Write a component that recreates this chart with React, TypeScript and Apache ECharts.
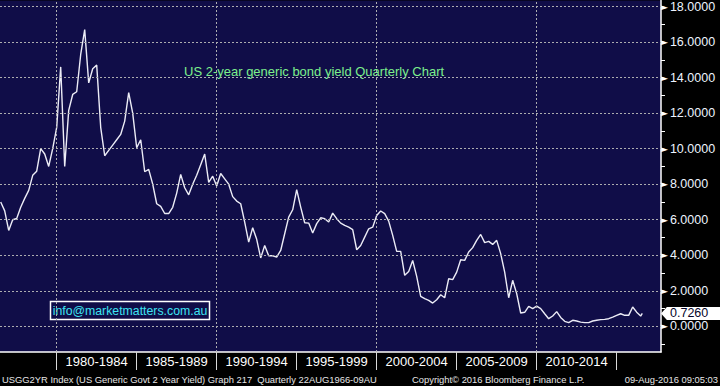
import React, { useEffect, useRef } from "react";
import * as echarts from "echarts";

// ---- data ----
const firstQuarterEnd = 1976.5; // first plotted quarter (Q2 1976)
const lastObservation = 2016.6; // partial quarter, 09-Aug-2016
const yieldValues = [
  7.0, 6.5, 5.4, 6.0, 6.07, 6.7, 7.2, 7.65, 8.5, 8.73,
  10.0, 9.7, 9.0, 10.0, 11.2, 14.6, 9.0, 12.15, 13.05, 13.2,
  15.3, 16.7, 13.7, 14.5, 14.7, 11.2, 9.6, 9.9, 10.2, 10.5,
  10.8, 11.55, 13.15, 12.0, 10.05, 10.5, 8.7, 8.83, 8.0, 6.9,
  6.75, 6.35, 6.35, 6.7, 7.5, 8.55, 7.8, 7.4, 8.0, 8.5,
  9.1, 9.7, 8.1, 8.45, 7.9, 8.6, 8.3, 8.0, 7.3, 7.05,
  6.9, 5.87, 4.74, 5.55, 4.9, 3.85, 4.55, 3.97, 3.97, 3.9,
  4.27, 5.21, 6.15, 6.56, 7.69, 6.71, 5.83, 5.81, 5.25, 5.78,
  6.11, 6.06, 5.87, 6.37, 6.06, 5.81, 5.68, 5.58, 5.44, 4.31,
  4.55, 5.02, 5.49, 5.58, 6.24, 6.49, 6.34, 5.92, 5.12, 4.22,
  4.22, 2.87, 3.09, 3.71, 2.81, 1.69, 1.56, 1.46, 1.31, 1.5,
  1.78, 1.61, 2.68, 2.63, 3.05, 3.75, 3.71, 4.18, 4.43, 4.84,
  5.17, 4.71, 4.78, 4.61, 4.84, 4.09, 3.05, 1.61, 2.59, 1.84,
  0.75, 0.79, 1.12, 1.0, 1.14, 1.0, 0.71, 0.43, 0.58, 0.83,
  0.5, 0.28, 0.21, 0.34, 0.3, 0.24, 0.21, 0.21, 0.3, 0.34,
  0.38, 0.39, 0.43, 0.52, 0.62, 0.71, 0.62, 0.62, 1.09, 0.8,
  0.58, 0.726,
];

const periodLabels = ["1980-1984", "1985-1989", "1990-1994", "1995-1999", "2000-2004", "2005-2009", "2010-2014"];
const periodCenters = [1982.5, 1987.5, 1992.5, 1997.5, 2002.5, 2007.5, 2012.5];
const periodSeparators = [1980, 1985, 1990, 1995, 2000, 2005, 2010, 2015];
const verticalGridYears = [1980, 1990, 2000, 2010];
const yTickLabels = [0, 2, 4, 6, 8, 10, 12, 14, 16, 18];
const yMinorTicks = [-1, 1, 3, 5, 7, 9, 11, 13, 15, 17];

const titleText = "US 2-year generic bond yield Quarterly Chart";
const contactText = "info@marketmatters.com.au";
const footerLeft = "USGG2YR Index (US Generic Govt 2 Year Yield) Graph 217  Quarterly 22AUG1966-09AU";
const footerMid = "Copyright\u00A9 2016 Bloomberg Finance L.P.";
const footerRight = "09-Aug-2016 09:05:03";

const X_MIN = 1976.456;
const X_MAX = 2017.77;
const Y_MIN = -1.444;
const Y_MAX = 18.337;

const FONT = "Liberation Sans, Arial, sans-serif";

export default function App() {
  const ref = useRef<HTMLDivElement>(null);

  useEffect(() => {
    if (!ref.current) return;
    const chart = echarts.init(ref.current, null, { renderer: "svg" });

    const seriesData = yieldValues.map((v, i) => [
      i === yieldValues.length - 1 ? lastObservation : firstQuarterEnd + 0.25 * i,
      v,
    ]);
    const lastValue = yieldValues[yieldValues.length - 1];

    const gridLineStyle = { type: [2, 2] as any, color: "#acacb0", width: 1 };

    chart.setOption({
      animation: false,
      backgroundColor: "#000000",
      grid: {
        left: 0,
        top: 0,
        right: 59,
        bottom: 34,
        show: true,
        backgroundColor: "#100d48",
        borderWidth: 0,
        containLabel: false,
      },
      xAxis: {
        type: "value",
        min: X_MIN,
        max: X_MAX,
        axisLine: { show: true, onZero: false, lineStyle: { color: "#ffffff", width: 1.5 } },
        splitLine: { show: false },
        axisTick: {
          show: true,
          customValues: periodSeparators,
          length: 18,
          lineStyle: { color: "#d8d8d8", width: 1 },
        },
        axisLabel: {
          customValues: periodCenters,
          formatter: (v: number) => periodLabels[periodCenters.indexOf(v)] ?? "",
          color: "#ffffff",
          fontSize: 13,
          fontFamily: FONT,
          margin: 3,
        },
      },
      yAxis: {
        type: "value",
        position: "right",
        min: Y_MIN,
        max: Y_MAX,
        axisLine: { show: true, onZero: false, lineStyle: { color: "#ffffff", width: 1.5 } },
        splitLine: { show: false },
        axisTick: {
          show: true,
          customValues: yMinorTicks,
          length: 4,
          lineStyle: { color: "#ffffff", width: 1 },
        },
        axisLabel: {
          customValues: yTickLabels,
          margin: 0,
          formatter: (v: number) => `{t|\u25BA}{v|${v.toFixed(4)}}`,
          rich: {
            t: { fontSize: 9, color: "#ffffff", fontFamily: "DejaVu Sans", padding: [0, 2, 0, 0] },
            v: { fontSize: 12.5, color: "#eef4ff", fontFamily: FONT },
          },
        },
      },
      series: [
        {
          type: "line",
          z: 1,
          silent: true,
          symbol: "none",
          data: [[X_MIN, Y_MIN]],
          lineStyle: { opacity: 0 },
          markLine: {
            silent: true,
            symbol: ["none", "none"],
            label: { show: false },
            lineStyle: gridLineStyle,
            data: [
              ...verticalGridYears.map((y) => ({ xAxis: y })),
              ...yTickLabels.map((v) => ({ yAxis: v })),
            ],
          },
        },
        {
          type: "line",
          z: 3,
          symbol: "none",
          data: seriesData,
          lineStyle: { color: "#ececf6", width: 1.4 },
          markPoint: {
            silent: true,
            symbol: "path://M0,6 L6,0 L60,0 L60,12 L6,12 Z",
            symbolSize: [59, 13],
            symbolKeepAspect: false,
            symbolOffset: ["50%", 0],
            itemStyle: { color: "#ffffff" },
            label: {
              show: true,
              position: "insideLeft",
              distance: 9,
              formatter: () => lastValue.toFixed(4),
              color: "#05052a",
              fontSize: 12.5,
              fontFamily: FONT,
            },
            data: [{ coord: [X_MAX, lastValue], value: lastValue }],
          },
        },
      ],
      graphic: [
        {
          type: "text",
          x: 184,
          y: 71.5,
          style: {
            text: titleText,
            fill: "#7cf08c",
            fontSize: 13,
            fontFamily: FONT,
            verticalAlign: "middle",
          },
        },
        {
          type: "rect",
          shape: { x: 50.5, y: 301.5, width: 159, height: 18 },
          style: { fill: "none", stroke: "#ffffff", lineWidth: 1.5 },
        },
        {
          type: "text",
          x: 130,
          y: 311,
          style: {
            text: contactText,
            fill: "#3ee4f2",
            fontSize: 12.3,
            fontFamily: FONT,
            align: "center",
            verticalAlign: "middle",
          },
        },
        {
          type: "text",
          x: 2,
          y: 379,
          style: { text: footerLeft, fill: "#e6e6e6", fontSize: 9.4, fontFamily: FONT, verticalAlign: "middle" },
        },
        {
          type: "text",
          x: 412,
          y: 379,
          style: { text: footerMid, fill: "#e6e6e6", fontSize: 9.4, fontFamily: FONT, verticalAlign: "middle" },
        },
        {
          type: "text",
          x: 718,
          y: 379,
          style: {
            text: footerRight,
            fill: "#e6e6e6",
            fontSize: 9.4,
            fontFamily: FONT,
            align: "right",
            verticalAlign: "middle",
          },
        },
      ],
    });

    return () => {
      chart.dispose();
    };
  }, []);

  return (
    <div
      style={{ position: "fixed", left: 0, top: 0, width: 720, height: 386, background: "#000" }}
    >
      <div ref={ref} style={{ width: 720, height: 386 }} />
    </div>
  );
}
